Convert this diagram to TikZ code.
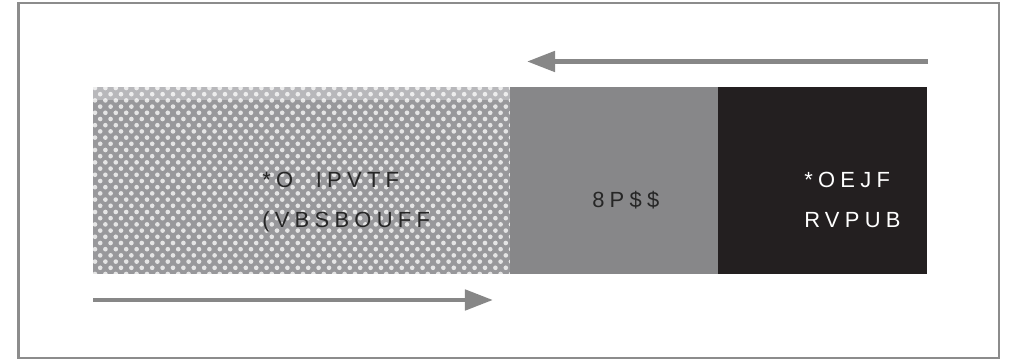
\documentclass[tikz,border=0pt]{standalone}
\usepackage{fontspec}
\setmainfont{Liberation Sans}
\newfontfamily\spacedfont[LetterSpace=24]{Liberation Sans}
\usetikzlibrary{arrows.meta}
\usetikzlibrary{positioning}

\definecolor{framegray}{HTML}{8C8C8C}
\definecolor{arrowgray}{HTML}{878787}
\definecolor{stripgray}{HTML}{B8B8BB}
\definecolor{dotgray}{HTML}{98989B}
\definecolor{midgray}{HTML}{878789}
\definecolor{nearblack}{HTML}{231F20}
\definecolor{textdark}{HTML}{262626}

\begin{document}
\begin{tikzpicture}[x=0.025cm,y=-0.025cm,
  blocktext/.style={font={\fontsize{15.6}{28.45}\spacedfont},inner sep=0pt,align=left,anchor=west},
  flow/.style={arrowgray,line width=0.12cm,-{Triangle[length=0.7cm,width=0.5cm]}}]
\useasboundingbox (0,0) rectangle (1009,359);
\draw[framegray,line width=0.05cm] (18.5,3.5) rectangle (999,358);

% left block, dotted
\fill[stripgray] (93,87) rectangle (510,100);
\fill[dotgray] (93,100) rectangle (510,274.5);
\begin{scope}
\clip (93,87) rectangle (510,274.5);
\foreach \r [evaluate=\r as \off using {5.2*mod(\r,2)}] in {0,...,31}
  \foreach \c in {0,...,40}
    \fill[white,opacity=0.75] ({95+10.4*\c+\off},{88+6.2*\r}) circle (0.058cm);
\end{scope}

% middle and right blocks
\fill[midgray] (510,87) rectangle (717.5,274.5);
\fill[nearblack] (717.5,87) rectangle (927,274.5);

\node[blocktext,text=textdark] (inhouse) at (262,202) {*O\ \ IPVTF\\(VBSBOUFF};
\node[blocktext,text=textdark] (work) at (592,200) {8P\$\$};
\node[blocktext,text=white] (quota) at (804,200) {*OEJF\\RVPUB};

% arrows
\coordinate (topstart) at (928,61.5);
\coordinate (topend) at (527,61.5);
\coordinate (botstart) at (93,300);
\coordinate (botend) at (493,300);
\draw[flow] (topstart) -- (topend);
\draw[flow] (botstart) -- (botend);
\end{tikzpicture}
\end{document}
